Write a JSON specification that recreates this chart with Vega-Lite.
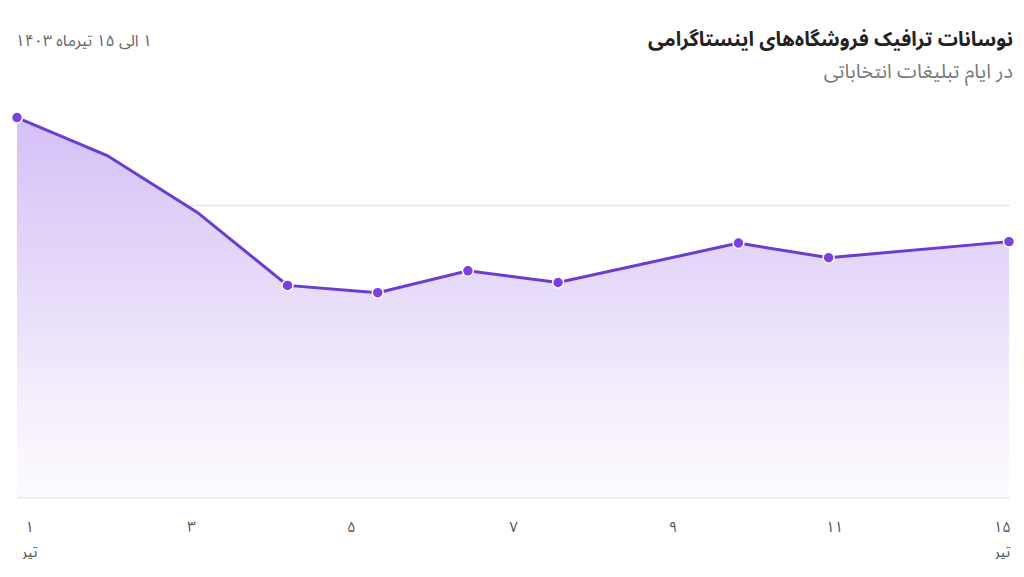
{
  "$schema": "https://vega.github.io/schema/vega-lite/v6.json",
  "description": "نوسانات ترافیک فروشگاه‌های اینستاگرامی در ایام تبلیغات انتخاباتی",
  "width": 992,
  "height": 394,
  "padding": {"left": 8, "right": 8, "top": 30, "bottom": 0},
  "background": "white",
  "title": {
    "text": "نوسانات ترافیک فروشگاه‌های اینستاگرامی",
    "subtitle": "در ایام تبلیغات انتخاباتی",
    "anchor": "end",
    "frame": "group",
    "offset": -50,
    "dx": 4,
    "font": "Noto Sans Arabic, DejaVu Sans, sans-serif",
    "fontSize": 20,
    "fontWeight": "bold",
    "color": "#222222",
    "subtitleFont": "Noto Sans Arabic, DejaVu Sans, sans-serif",
    "subtitleFontSize": 20,
    "subtitleColor": "#7a7a7a",
    "subtitlePadding": 12
  },
  "data": {
    "values": [
      {"step": 0, "traffic": 260},
      {"step": 1, "traffic": 234},
      {"step": 2, "traffic": 195},
      {"step": 3, "traffic": 145},
      {"step": 4, "traffic": 140},
      {"step": 5, "traffic": 155},
      {"step": 6, "traffic": 147},
      {"step": 8, "traffic": 174},
      {"step": 9, "traffic": 164},
      {"step": 11, "traffic": 175}
    ]
  },
  "encoding": {
    "x": {
      "field": "step",
      "type": "quantitative",
      "scale": {"domain": [0, 11], "nice": false, "zero": false},
      "axis": {
        "title": null,
        "values": [0.133, 1.93, 3.7, 5.5, 7.27, 9.06, 10.92],
        "labelExpr": "datum.value < 1 ? ['۱', 'تیر'] : datum.value < 3 ? '۳' : datum.value < 4 ? '۵' : datum.value < 6 ? '۷' : datum.value < 8 ? '۹' : datum.value < 10 ? '۱۱' : ['۱۵', 'تیر']",
        "labelFont": "Noto Sans Arabic, DejaVu Sans, sans-serif",
        "labelFontSize": 15,
        "labelColor": "#555555",
        "labelPadding": 22,
        "labelLineHeight": 25,
        "labelAlign": "center",
        "labelBaseline": "top",
        "labelOverlap": false,
        "labelBound": false,
        "labelFlush": false,
        "ticks": false,
        "domain": false,
        "grid": false
      }
    },
    "y": {
      "field": "traffic",
      "type": "quantitative",
      "scale": {"domain": [0, 270], "nice": false},
      "axis": {
        "title": "‏۱ الی ۱۵ تیرماه ۱۴۰۳",
        "titleAngle": 0,
        "titleAlign": "left",
        "titleBaseline": "top",
        "titleX": -2,
        "titleY": -71,
        "titleFont": "Noto Sans Arabic, DejaVu Sans, sans-serif",
        "titleFontSize": 16,
        "titleFontWeight": "normal",
        "titleColor": "#666666",
        "values": [0, 100, 200],
        "labels": false,
        "ticks": false,
        "domain": false,
        "minExtent": 0,
        "grid": true,
        "gridColor": "#e6e2ec",
        "gridWidth": 1.5
      }
    }
  },
  "layer": [
    {
      "mark": {
        "type": "area",
        "line": false,
        "fill": {
          "gradient": "linear",
          "x1": 0, "y1": 0, "x2": 0, "y2": 1,
          "stops": [
            {"offset": 0, "color": "#d4c0f6"},
            {"offset": 0.45, "color": "#e7dbfa"},
            {"offset": 0.75, "color": "#f6eefc"},
            {"offset": 1, "color": "#fdfbff"}
          ]
        }
      }
    },
    {
      "mark": {"type": "line", "color": "#6b3cd2", "strokeWidth": 3}
    },
    {
      "transform": [{"filter": "datum.step != 1 && datum.step != 2"}],
      "mark": {
        "type": "circle",
        "size": 120,
        "color": "#7b3fe4",
        "opacity": 1,
        "stroke": "white",
        "strokeWidth": 1.5
      }
    }
  ],
  "config": {
    "view": {"stroke": null}
  }
}
